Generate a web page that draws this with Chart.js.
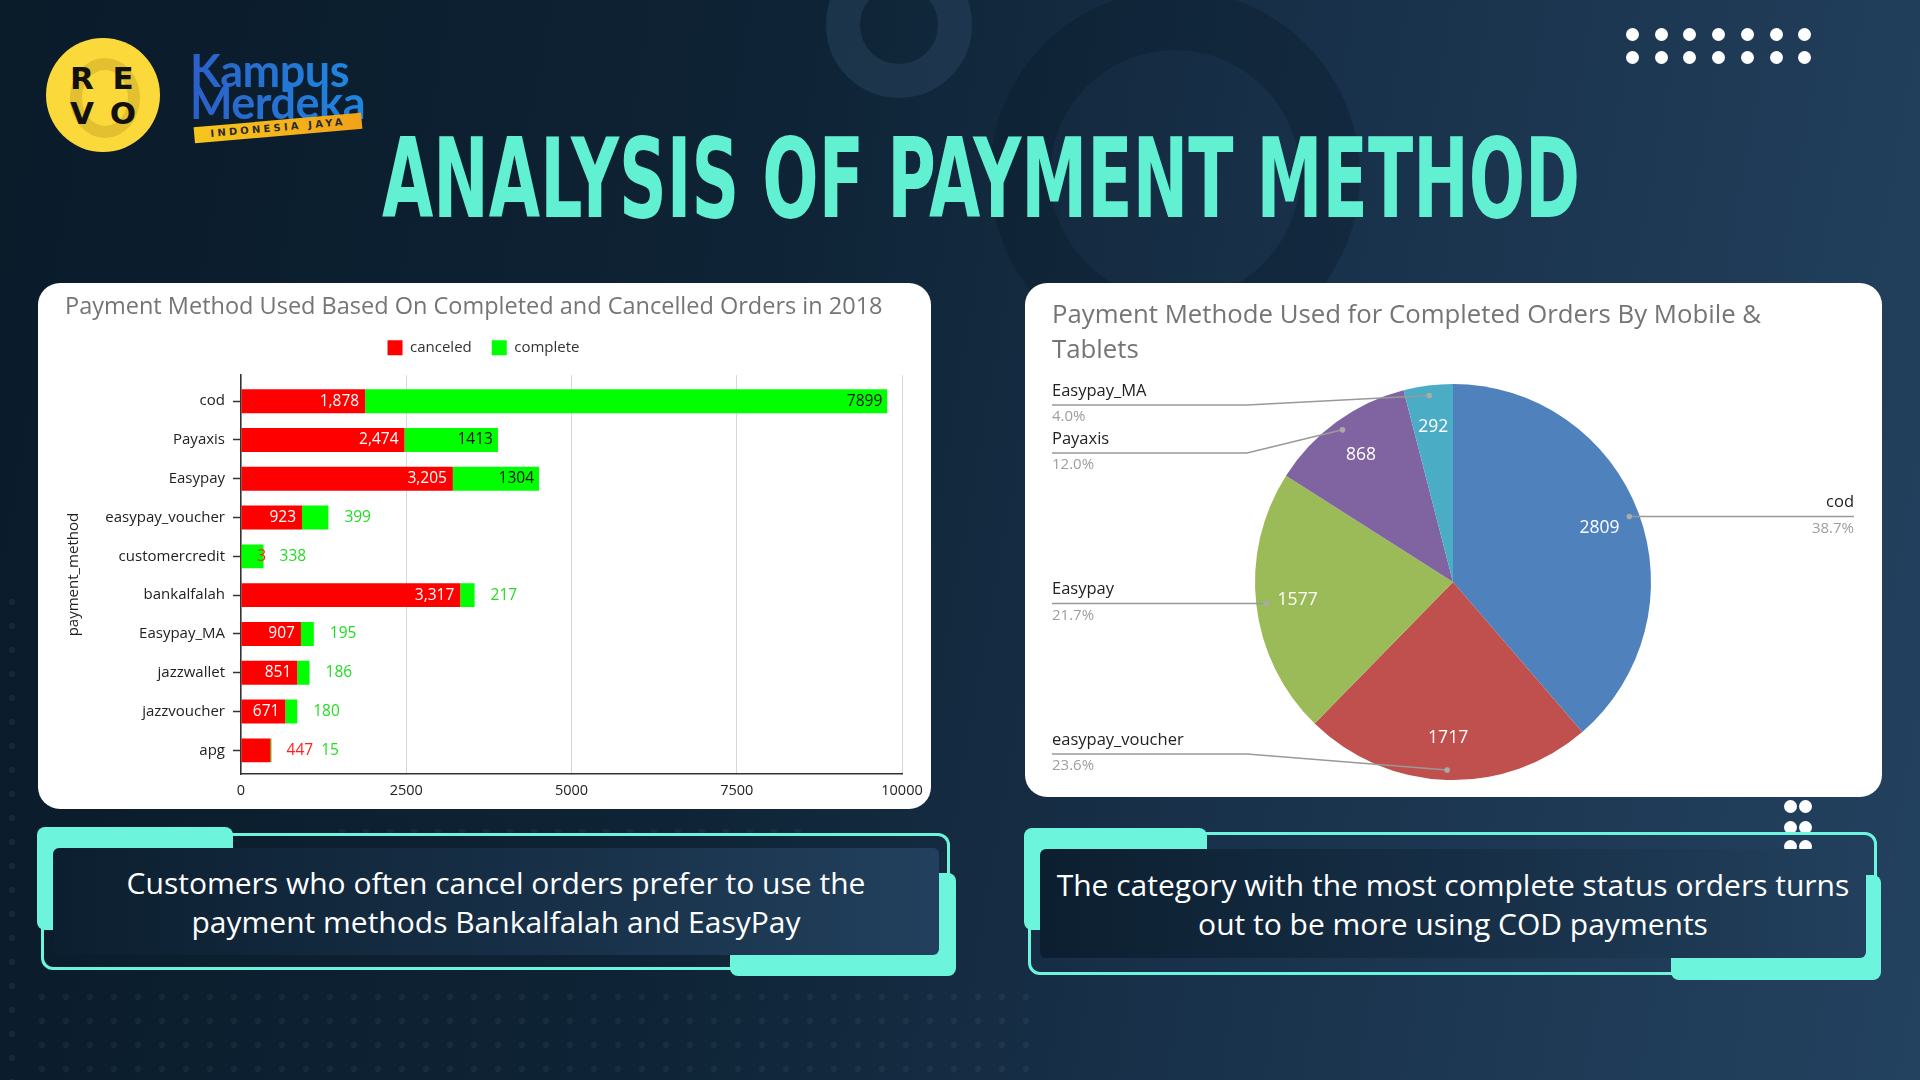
<!DOCTYPE html>
<html>
<head>
<meta charset="utf-8">
<script src="https://cdn.jsdelivr.net/npm/chart.js@4.4.1/dist/chart.umd.min.js"></script>
<style>
  html, body { margin: 0; padding: 0; }
  body {
    width: 1920px; height: 1080px; overflow: hidden; position: relative;
    background: linear-gradient(100deg, #0a1b2a 0%, #0e2335 38%, #1a334d 68%, #23425f 100%);
    font-family: 'Open Sans', sans-serif;
  }
  .abs { position: absolute; }
  .ring { position: absolute; border-radius: 50%; box-sizing: border-box; }
  .dots {
    position: absolute;
    background-image: radial-gradient(circle, rgba(255,255,255,0.045) 3px, transparent 3.5px);
    background-size: 24px 24px;
  }
  .wdot { position: absolute; width: 13px; height: 13px; border-radius: 50%; background: #fff; }
  .panel { position: absolute; background: #fff; border-radius: 22px; overflow: hidden; }
  .mint { position: absolute; background: #6cf5dc; border-radius: 8px; }
  .outline { position: absolute; border: 3px solid #6cf5dc; border-radius: 12px; box-sizing: border-box; }
  .note {
    position: absolute; border-radius: 6px;
    background: linear-gradient(90deg, #0c1f30 0%, #162e45 50%, #22405d 100%);
    color: #fff; font-size: 30px; line-height: 39px; text-align: center;
    display: flex; align-items: center; justify-content: center;
  }
  #mainTitle {
    position: absolute; left: 382px; top: 124px; white-space: nowrap;
    font-family: 'Liberation Sans Narrow', 'DejaVu Sans Condensed', sans-serif;
    font-weight: bold; font-size: 110px; line-height: 110px; color: #62f0d3;
    transform-origin: 0 0;
  }
  .logoLetter {
    position: absolute; width: 40px; height: 36px; margin-left: -20px; margin-top: -18px;
    font-family: 'DejaVu Sans', sans-serif; font-weight: bold; font-size: 31px;
    line-height: 36px; text-align: center; color: #111;
  }
  .km {
    position: absolute; font-family: Lato, sans-serif; font-weight: bold; font-size: 45px;
    line-height: 44px; letter-spacing: -0.5px;
    background: linear-gradient(90deg, #2c5fc7, #1f86e0);
    -webkit-background-clip: text; background-clip: text; color: transparent;
  }
</style>
</head>
<body>

<!-- background decoration -->
<div class="ring" style="left:826px; top:-48px; width:146px; height:146px; border:34px solid rgba(52,82,112,0.35);"></div>
<div class="ring" style="left:990px; top:-10px; width:370px; height:370px; border:60px solid rgba(10,25,40,0.35);"></div>
<div class="dots" style="left:0; top:590px; width:30px; height:490px;"></div>
<div class="dots" style="left:30px; top:985px; width:1000px; height:95px;"></div>
<div class="dots" style="left:330px; top:820px; width:480px; height:30px;"></div>

<!-- logos -->
<div class="abs" style="left:46px; top:38px; width:114px; height:114px; border-radius:50%; background:#fcd93a;"></div>
<div class="ring" style="left:70px; top:58px; width:70px; height:80px; border:12px solid rgba(150,120,20,0.25);"></div>
<div class="logoLetter" style="left:82px; top:78px;">R</div>
<div class="logoLetter" style="left:123px; top:78px;">E</div>
<div class="logoLetter" style="left:82px; top:113px;">V</div>
<div class="logoLetter" style="left:123px; top:113px;">O</div>
<div class="km" style="left:190px; top:48px;">Kampus</div>
<div class="km" style="left:190px; top:80px;">Merdeka</div>
<div class="abs" style="left:194px; top:120px; width:168px; height:16px; transform:rotate(-5deg);
  background:linear-gradient(90deg,#f6c61c,#f2a21a); font:bold 10px 'DejaVu Sans',sans-serif;
  letter-spacing:3.2px; color:#2a2a2a; line-height:16px; text-align:center;">INDONESIA JAYA</div>

<!-- top-right dots -->
<div id="dotsTop"></div>

<div id="mainTitle">ANALYSIS OF PAYMENT METHOD</div>

<!-- chart panels -->
<div class="panel" style="left:38px; top:283px; width:893px; height:526px;">
  <canvas id="barChart" width="893" height="526"></canvas>
</div>
<div class="panel" style="left:1025px; top:283px; width:857px; height:514px;">
  <canvas id="pieChart" width="857" height="514"></canvas>
</div>

<!-- right small dots -->
<div class="wdot" style="left:1784px; top:800px;"></div>
<div class="wdot" style="left:1799px; top:800px;"></div>
<div class="wdot" style="left:1784px; top:821px;"></div>
<div class="wdot" style="left:1799px; top:821px;"></div>
<div class="wdot" style="left:1784px; top:840px;"></div>
<div class="wdot" style="left:1799px; top:840px;"></div>

<!-- note boxes -->
<div class="outline" style="left:41px; top:833px; width:909px; height:137px;"></div>
<div class="mint" style="left:37px; top:827px; width:196px; height:103px;"></div>
<div class="mint" style="left:730px; top:873px; width:226px; height:103px;"></div>
<div class="note" style="left:53px; top:848px; width:886px; height:107px;">
  <div>Customers who often cancel orders prefer to use the<br>payment methods Bankalfalah and EasyPay</div>
</div>

<div class="outline" style="left:1028px; top:832px; width:849px; height:143px;"></div>
<div class="mint" style="left:1024px; top:828px; width:183px; height:102px;"></div>
<div class="mint" style="left:1671px; top:875px; width:210px; height:105px;"></div>
<div class="note" style="left:1040px; top:849px; width:826px; height:109px;">
  <div>The category with the most complete status orders turns<br>out to be more using COD payments</div>
</div>

<script>
// ---- data ----
const categories = ['cod', 'Payaxis', 'Easypay', 'easypay_voucher', 'customercredit',
  'bankalfalah', 'Easypay_MA', 'jazzwallet', 'jazzvoucher', 'apg'];
const canceled = [1878, 2474, 3205, 923, 3, 3317, 907, 851, 671, 447];
const complete = [7899, 1413, 1304, 399, 338, 217, 195, 186, 180, 15];
const xTicks = [0, 2500, 5000, 7500, 10000];

const pieNames = ['cod', 'easypay_voucher', 'Easypay', 'Payaxis', 'Easypay_MA'];
const pieValues = [2809, 1717, 1577, 868, 292];
const pieColors = ['#4f81bd', '#c0504d', '#9bbb59', '#8064a2', '#4bacc6'];

// title fitted to its width in the picture
const title = document.getElementById('mainTitle');
title.style.transform = 'scaleX(' + (1198 / title.offsetWidth) + ')';

// top-right dots
const dotsTop = document.getElementById('dotsTop');
for (let r = 0; r < 2; r++) {
  for (let c = 0; c < 7; c++) {
    const d = document.createElement('div');
    d.className = 'wdot';
    d.style.left = (1626 + c * 28.7) + 'px';
    d.style.top = (28 + r * 23) + 'px';
    dotsTop.appendChild(d);
  }
}

Chart.defaults.font.family = "'Open Sans', sans-serif";
Chart.defaults.animation = false;

// value labels on the stacked bars
const barValueLabels = {
  id: 'barValueLabels',
  afterDatasetsDraw(chart) {
    const ctx = chart.ctx;
    const m0 = chart.getDatasetMeta(0);
    const m1 = chart.getDatasetMeta(1);
    ctx.save();
    ctx.font = "15.5px 'Open Sans'";
    ctx.textBaseline = 'middle';
    categories.forEach((c, i) => {
      const a = m0.data[i];
      const b = m1.data[i];
      const t0 = canceled[i].toLocaleString('en-US');
      const t1 = String(complete[i]);
      const w0 = ctx.measureText(t0).width;
      const w1 = ctx.measureText(t1).width;
      let end = -Infinity;
      if (a.x - a.base >= w0 + 10) {
        ctx.fillStyle = '#ffffff';
        ctx.textAlign = 'right';
        ctx.fillText(t0, a.x - 6, a.y);
      } else {
        ctx.fillStyle = '#ff2020';
        ctx.textAlign = 'left';
        ctx.fillText(t0, a.x + 16, a.y);
        end = a.x + 16 + w0;
      }
      if (b.x - b.base >= w1 + 10) {
        ctx.fillStyle = '#111111';
        ctx.textAlign = 'right';
        ctx.fillText(t1, b.x - 5, b.y);
      } else {
        ctx.fillStyle = '#22dd22';
        ctx.textAlign = 'left';
        ctx.fillText(t1, Math.max(b.x + 16, end + 8), b.y);
      }
    });
    ctx.restore();
  }
};

new Chart(document.getElementById('barChart'), {
  type: 'bar',
  data: {
    labels: categories,
    datasets: [
      { label: 'canceled', data: canceled, backgroundColor: '#ff0000',
        categoryPercentage: 0.8, barPercentage: 0.77 },
      { label: 'complete', data: complete, backgroundColor: '#00ff00',
        categoryPercentage: 0.8, barPercentage: 0.77 }
    ]
  },
  options: {
    indexAxis: 'y',
    responsive: false,
    layout: { padding: { left: 27, right: 29, top: 0, bottom: 0 } },
    scales: {
      x: {
        stacked: true, min: 0, max: 10000,
        afterBuildTicks(scale) { scale.ticks = xTicks.map(v => ({ value: v })); },
        afterFit(scale) { scale.height = 35; },
        ticks: { color: '#222', font: { size: 14.5 }, padding: 8, callback: v => String(v) },
        grid: { color: '#d6d6d6', drawTicks: false },
        border: { display: true, color: '#333', width: 1.5 }
      },
      y: {
        stacked: true,
        afterFit(scale) { scale.width = 176; },
        // a bit more room above the first and below the last category, as in the picture
        afterUpdate(scale) {
          scale._startValue = -0.67;
          scale._valueRange = categories.length + 0.28;
        },
        ticks: { color: '#222', font: { size: 15 }, padding: 8 },
        grid: { offset: false, drawOnChartArea: false, tickLength: 8, color: '#333', tickWidth: 1.5 },
        border: { display: true, color: '#333', width: 1.5 },
        title: { display: true, text: 'payment_method', color: '#222',
          font: { size: 15, weight: '500' }, padding: { top: 0, bottom: 0 } }
      }
    },
    plugins: {
      title: {
        display: true, align: 'start',
        text: 'Payment Method Used Based On Completed and Cancelled Orders in 2018',
        color: '#757575', font: { size: 23.5, weight: 'normal' },
        padding: { top: 10, bottom: -1 }
      },
      subtitle: { display: true, text: '', font: { size: 10, lineHeight: 1 }, padding: 0 },
      legend: {
        weight: 1600,
        labels: { color: '#333', font: { size: 15 }, boxWidth: 15, boxHeight: 15, padding: 20 }
      },
      tooltip: { enabled: false }
    }
  },
  plugins: [barValueLabels]
});

// values inside slices, names and percentages outside with leader lines
const pieOuterLabels = {
  id: 'pieOuterLabels',
  afterDatasetsDraw(chart) {
    const { ctx, chartArea } = chart;
    const meta = chart.getDatasetMeta(0);
    const total = pieValues.reduce((s, v) => s + v, 0);
    const items = meta.data.map((arc, i) => {
      const mid = (arc.startAngle + arc.endAngle) / 2;
      const r = arc.outerRadius;
      return {
        i, arc, r,
        dotX: arc.x + Math.cos(mid) * r * 0.95,
        dotY: arc.y + Math.sin(mid) * r * 0.95,
        inX: arc.x + Math.cos(mid) * r * 0.79,
        inY: arc.y + Math.sin(mid) * r * 0.79,
        right: Math.cos(mid) > 0
      };
    });
    ctx.save();
    ctx.font = "17.5px 'Open Sans'";
    ctx.fillStyle = '#ffffff';
    ctx.textAlign = 'center';
    ctx.textBaseline = 'middle';
    items.forEach(it => ctx.fillText(String(pieValues[it.i]), it.inX, it.inY));

    const minY = chartArea.top + 21;
    const maxY = chartArea.bottom - 26;
    [true, false].forEach(side => {
      const list = items.filter(it => it.right === side).sort((a, b) => a.dotY - b.dotY);
      let prev = -Infinity;
      list.forEach(it => {
        let y = Math.max(it.dotY, minY, prev + 48);
        y = Math.min(y, maxY);
        it.lineY = y;
        prev = y;
      });
    });

    items.forEach(it => {
      const edgeX = it.right ? chartArea.right : chartArea.left;
      const bendX = it.right ? it.arc.x + it.r + 8 : it.arc.x - it.r - 8;
      ctx.strokeStyle = '#999999';
      ctx.lineWidth = 1.5;
      ctx.beginPath();
      ctx.moveTo(edgeX, it.lineY);
      ctx.lineTo(bendX, it.lineY);
      ctx.lineTo(it.dotX, it.dotY);
      ctx.stroke();
      ctx.fillStyle = '#aaaaaa';
      ctx.beginPath();
      ctx.arc(it.dotX, it.dotY, 2.8, 0, Math.PI * 2);
      ctx.fill();

      ctx.textAlign = it.right ? 'right' : 'left';
      ctx.font = "16.5px 'Open Sans'";
      ctx.fillStyle = '#222222';
      ctx.fillText(pieNames[it.i], edgeX, it.lineY - 14);
      ctx.font = "15px 'Open Sans'";
      ctx.fillStyle = '#9e9e9e';
      ctx.fillText((pieValues[it.i] / total * 100).toFixed(1) + '%', edgeX, it.lineY + 12);
    });
    ctx.restore();
  }
};

new Chart(document.getElementById('pieChart'), {
  type: 'pie',
  data: {
    labels: pieNames,
    datasets: [{ data: pieValues, backgroundColor: pieColors, borderWidth: 0, hoverBorderWidth: 0 }]
  },
  options: {
    responsive: false,
    layout: { padding: { left: 27, right: 28, top: 0, bottom: 17 } },
    plugins: {
      title: {
        display: true, align: 'start',
        text: ['Payment Methode Used for Completed Orders By Mobile &', 'Tablets'],
        color: '#757575', font: { size: 25.75, weight: 'normal', lineHeight: 1.36 },
        padding: { top: 15, bottom: 16 }
      },
      legend: { display: false },
      tooltip: { enabled: false }
    }
  },
  plugins: [pieOuterLabels]
});
</script>
</body>
</html>
